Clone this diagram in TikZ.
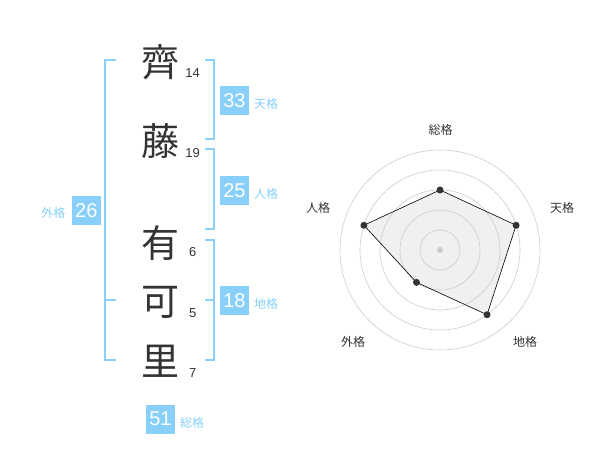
\documentclass[tikz,border=0pt]{standalone}
\usepackage{fontspec}
\setmainfont{Liberation Sans}
\newfontfamily\jp{Noto Sans CJK JP}
\definecolor{kakublue}{HTML}{88CFFA}
\definecolor{inkgray}{HTML}{333333}
\definecolor{ringgray}{HTML}{CCCCCC}
\definecolor{areagray}{HTML}{F0F0F0}

\begin{document}
\begin{tikzpicture}[x=1pt,y=1pt]
	\tikzset{
		kanji/.style={font=\jp\fontsize{38}{38}\selectfont,text=inkgray,inner sep=0pt},
		strokes/.style={font=\fontsize{13}{13}\selectfont,text=inkgray,inner sep=0pt},
		kakubox/.style={fill=kakublue,text=white,minimum size=29pt,inner sep=0pt,font=\fontsize{20}{20}\selectfont},
		kakuname/.style={font=\jp\fontsize{12}{12}\selectfont,text=kakublue,inner sep=0pt},
		bracket/.style={draw=kakublue,line width=2pt},
		axisname/.style={font=\jp\fontsize{12}{12}\selectfont,text=inkgray,inner sep=0pt},
		ring/.style={draw=ringgray,line width=0.6pt},
		vertex/.style={circle,fill=inkgray,inner sep=0pt,minimum size=7pt}
	}
	\useasboundingbox (0,0) rectangle (600,-470);

	    % name
	    \node[kanji] (c1) at (160,-62) {齊};
	    \node[kanji] (c2) at (160,-141) {藤};
	    \node[kanji] (c3) at (160,-243) {有};
	    \node[kanji] (c4) at (160,-302) {可};
	    \node[kanji] (c5) at (160,-361) {里};

	    \node[strokes] (s1) at (192.7,-72.7) {14};
	    \node[strokes] (s2) at (192.7,-152.7) {19};
	    \node[strokes] (s3) at (192.7,-252.3) {6};
	    \node[strokes] (s4) at (192.7,-312.7) {5};
	    \node[strokes] (s5) at (192.7,-372.7) {7};

	    % brackets
	    \draw[bracket] (205,-60) -- (214,-60) -- (214,-139) -- (205,-139);
	    \draw[bracket] (205,-149) -- (214,-149) -- (214,-229) -- (205,-229);
	    \draw[bracket] (205,-240) -- (214,-240) -- (214,-360) -- (205,-360);
	    \draw[bracket] (205,-300) -- (214,-300);
	    \draw[bracket] (115.7,-60) -- (105,-60) -- (105,-360) -- (115.7,-360);
	    \draw[bracket] (105,-300) -- (115.7,-300);

	    \node[kakubox] (ten) at (234.5,-100.5) {33};
	    \node[kakuname] (tenname) at (266,-104) {天格};
	    \node[kakubox] (jin) at (234.5,-190.5) {25};
	    \node[kakuname] (jinname) at (266,-194) {人格};
	    \node[kakubox] (chi) at (234.5,-300.5) {18};
	    \node[kakuname] (chiname) at (266,-304) {地格};
	    \node[kakubox] (gai) at (86.3,-210.5) {26};
	    \node[kakuname] (gainame) at (53.3,-213) {外格};
	    \node[kakubox] (sou) at (160.5,-419) {51};
	    \node[kakuname] (souname) at (192,-423) {総格};



	    \begin{scope}[shift={(440,-250)}]
	    \coordinate (psou) at (90:60);
	    \coordinate (pten) at (18:80);
	    \coordinate (pchi) at (-54:80);
	    \coordinate (pgai) at (-126:40);
	    \coordinate (pjin) at (162:80);
	    \fill[areagray] (psou) -- (pten) -- (pchi) -- (pgai) -- (pjin) -- cycle;
	    \foreach \r in {20,40,...,100}
	    	\draw[ring] (0,0) circle (\r);
	    \fill[ringgray] (0,0) circle (3);
	    \draw[black,line width=0.6pt] (psou) -- (pten) -- (pchi) -- (pgai) -- (pjin) -- cycle;
	    \foreach \p in {sou,ten,chi,gai,jin}
	    	\node[vertex] (d\p) at (p\p) {};

	    \node[axisname] (asou) at (0.7,120) {総格};
	    \node[axisname] (aten) at (122,42) {天格};
	    \node[axisname] (achi) at (85,-91.7) {地格};
	    \node[axisname] (agai) at (-87,-91.7) {外格};
	    \node[axisname] (ajin) at (-122,42) {人格};
	    \end{scope}

\end{tikzpicture}
\end{document}
